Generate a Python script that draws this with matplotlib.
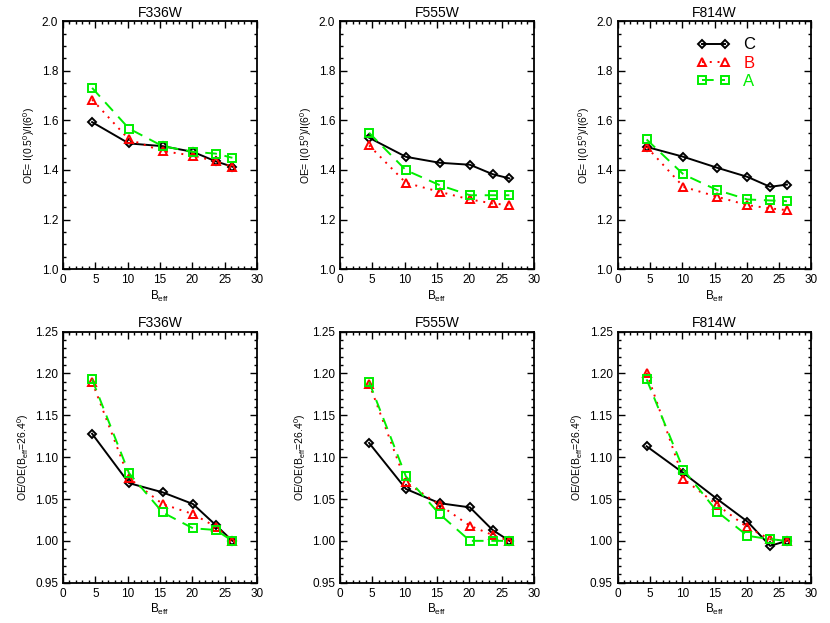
import numpy as np
import matplotlib
matplotlib.use('Agg')
import matplotlib.pyplot as plt
from matplotlib.ticker import MultipleLocator

plt.rcParams['font.family'] = ['Liberation Sans', 'DejaVu Sans']
plt.rcParams['mathtext.fontset'] = 'custom'
plt.rcParams['mathtext.rm'] = 'Liberation Sans'
plt.rcParams['mathtext.it'] = 'Liberation Sans'

# Data
b_eff = [4.5, 10.2, 15.4, 20.1, 23.6, 26.2]
filters = ['F336W', 'F555W', 'F814W']

# top row: OE
oe_c = [[1.593, 1.507, 1.496, 1.473, 1.435, 1.413],
        [1.530, 1.453, 1.429, 1.421, 1.383, 1.366],
        [1.493, 1.453, 1.409, 1.372, 1.332, 1.341]]
oe_b = [[1.684, 1.523, 1.476, 1.458, 1.435, 1.413],
        [1.499, 1.348, 1.312, 1.281, 1.265, 1.258],
        [1.493, 1.332, 1.292, 1.258, 1.245, 1.238]]
oe_a = [[1.731, 1.567, 1.496, 1.473, 1.466, 1.449],
        [1.550, 1.399, 1.339, 1.298, 1.298, 1.298],
        [1.523, 1.382, 1.319, 1.281, 1.277, 1.274]]

# bottom row: OE normalised to B_eff=26.4
rel_c = [[1.128, 1.069, 1.058, 1.044, 1.019, 1.000],
         [1.117, 1.062, 1.045, 1.040, 1.013, 1.000],
         [1.113, 1.081, 1.050, 1.023, 0.994, 1.000]]
rel_b = [[1.190, 1.075, 1.044, 1.032, 1.017, 1.000],
         [1.188, 1.070, 1.043, 1.018, 1.007, 1.000],
         [1.201, 1.074, 1.043, 1.016, 1.002, 1.000]]
rel_a = [[1.193, 1.081, 1.034, 1.015, 1.013, 1.000],
         [1.190, 1.077, 1.032, 1.000, 1.000, 1.000],
         [1.193, 1.085, 1.035, 1.006, 1.002, 1.000]]

series_labels = ['C', 'B', 'A']
styles = [dict(color='black', ls='-', marker='D', ms=4.5),
          dict(color='#ff0000', ls=(0, (1, 3)), marker='^', ms=6),
          dict(color='#00ee00', ls=(0, (6, 4)), marker='s', ms=6)]

fig = plt.figure(figsize=(8.3, 6.23), dpi=100)
lefts = [0.0759, 0.4096, 0.744]
w = 0.2337


def style_axes(ax, ylim, major, minor):
    ax.set_xlim(0, 30)
    ax.set_ylim(*ylim)
    ax.xaxis.set_major_locator(MultipleLocator(5))
    ax.xaxis.set_minor_locator(MultipleLocator(1))
    ax.yaxis.set_major_locator(MultipleLocator(major))
    ax.yaxis.set_minor_locator(MultipleLocator(minor))
    ax.tick_params(which='both', direction='in', top=True, right=True, labelsize=8.5)
    ax.tick_params(which='major', length=5, width=1)
    ax.tick_params(which='minor', length=2.5, width=1)
    for s in ax.spines.values():
        s.set_linewidth(1.3)
    ax.set_xlabel('B$_{\\rm eff}$', fontsize=8.5, labelpad=2)


for i, f in enumerate(filters):
    ax = fig.add_axes([lefts[i], 0.568, w, 0.398])
    for vals, lab, st in zip([oe_c[i], oe_b[i], oe_a[i]], series_labels, styles):
        ax.plot(b_eff, vals, lw=1.4, mfc='none', mew=1.4, label=lab, **st)
    style_axes(ax, (1.0, 2.0), 0.2, 0.05)
    ax.yaxis.set_major_formatter(plt.FormatStrFormatter('%.1f'))
    ax.set_title(f, fontsize=10, pad=3)
    ax.set_ylabel('OE= I(0.5$^0$)/I(6$^0$)', fontsize=7.5, labelpad=3)
    if i == 2:
        leg = ax.legend(loc='upper left', bbox_to_anchor=(0.33, 0.995), frameon=False,
                        numpoints=2, handlelength=2.0, fontsize=12, labelspacing=0.2,
                        handletextpad=0.8)
        for t, st in zip(leg.get_texts(), styles):
            t.set_color(st['color'])

    ax2 = fig.add_axes([lefts[i], 0.0647, w, 0.403])
    for vals, lab, st in zip([rel_c[i], rel_b[i], rel_a[i]], series_labels, styles):
        ax2.plot(b_eff, vals, lw=1.4, mfc='none', mew=1.4, label=lab, **st)
    style_axes(ax2, (0.95, 1.25), 0.05, 0.01)
    ax2.yaxis.set_major_formatter(plt.FormatStrFormatter('%.2f'))
    ax2.set_title(f, fontsize=10, pad=3)
    ax2.set_ylabel('OE/OE(B$_{\\rm eff}$=26.4$^0$)', fontsize=7.5, labelpad=3)

fig.savefig('out.png', dpi=100)
